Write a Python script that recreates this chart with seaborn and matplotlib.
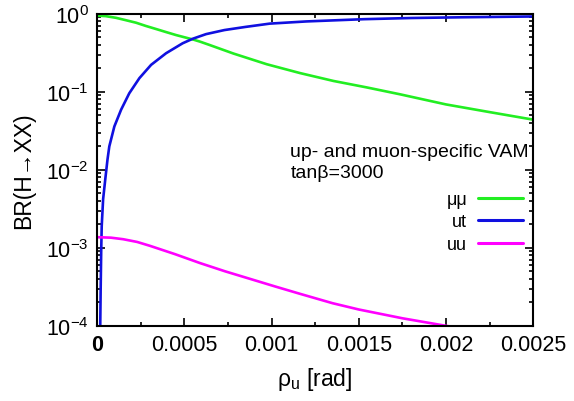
import numpy as np
import pandas as pd
import matplotlib
matplotlib.use("Agg")
import matplotlib.pyplot as plt
import seaborn as sns
from matplotlib.ticker import MultipleLocator, FixedLocator, LogLocator, FixedFormatter

# valori
rho_mm = [0, 0.00005, 0.000109, 0.000165, 0.000224, 0.00028, 0.000338, 0.000395,
          0.000453, 0.000549, 0.000591, 0.000644, 0.000782, 0.000973, 0.001164,
          0.001355, 0.001546, 0.001737, 0.002, 0.00225, 0.0025]
br_mm = [0.95, 0.935, 0.89, 0.83, 0.77, 0.70, 0.64, 0.585,
         0.535, 0.47, 0.44, 0.40, 0.31, 0.226, 0.174,
         0.138, 0.114, 0.093, 0.069, 0.055, 0.044]

rho_ut = [0.000018, 0.000021, 0.000024, 0.000027, 0.000035, 0.000048, 0.00006, 0.0000705,
          0.0000994, 0.000138, 0.000185, 0.000243, 0.00031, 0.000396, 0.000491, 0.000549,
          0.000625, 0.00073, 0.00085, 0.00099, 0.0012, 0.00153, 0.0018, 0.0021, 0.0025]
br_ut = [8e-5, 3e-4, 9e-4, 1.9e-3, 4.2e-3, 7.8e-3, 0.0135, 0.02,
         0.036, 0.059, 0.096, 0.15, 0.222, 0.313, 0.42, 0.48,
         0.55, 0.62, 0.68, 0.75, 0.80, 0.855, 0.885, 0.905, 0.926]

rho_uu = [0, 0.00008, 0.00015, 0.00023, 0.000304, 0.000447, 0.000591, 0.000734,
          0.000877, 0.00102, 0.001164, 0.00135, 0.0015, 0.00175, 0.002, 0.00225, 0.0025]
br_uu = [1.37e-3, 1.35e-3, 1.29e-3, 1.19e-3, 1.06e-3, 8.3e-4, 6.37e-4, 5.0e-4,
         4.0e-4, 3.2e-4, 2.57e-4, 1.95e-4, 1.62e-4, 1.25e-4, 1.0e-4, 8e-5, 6.5e-5]

xticks = [0, 0.0005, 0.001, 0.0015, 0.002, 0.0025]
xticklabels = ["0", "0.0005", "0.001", "0.0015", "0.002", "0.0025"]

sns.set_style("ticks")
plt.rcParams["font.family"] = ["Liberation Sans", "DejaVu Sans"]
plt.rcParams["mathtext.fontset"] = "custom"
plt.rcParams["mathtext.rm"] = "Liberation Sans"
plt.rcParams["mathtext.it"] = "Liberation Sans"
plt.rcParams["text.color"] = "black"
plt.rcParams["axes.labelcolor"] = "black"
plt.rcParams["xtick.color"] = "black"
plt.rcParams["ytick.color"] = "black"
plt.rcParams["axes.edgecolor"] = "black"

fig = plt.figure(figsize=(5.74, 4.02), dpi=100)
ax = fig.add_axes([0.169, 0.187, 0.76, 0.776])

sns.lineplot(x=rho_mm, y=br_mm, ax=ax, color="#22ee22", lw=1.9, label="\u03bc\u03bc", sort=False)
sns.lineplot(x=rho_ut, y=br_ut, ax=ax, color="#1010e0", lw=1.9, label="ut", sort=False)
sns.lineplot(x=rho_uu, y=br_uu, ax=ax, color="#ff00ff", lw=1.9, label="uu", sort=False)

ax.set_yscale("log")
ax.set_xlim(0, 0.0025)
ax.set_ylim(1e-4, 1)

ax.xaxis.set_major_locator(FixedLocator(xticks))
ax.xaxis.set_major_formatter(FixedFormatter(xticklabels))
ax.xaxis.set_minor_locator(MultipleLocator(0.00025))
ax.yaxis.set_minor_locator(LogLocator(base=10, subs=np.arange(2, 10)))
ax.tick_params(direction="in", top=True, right=True, which="both", width=1.2)
ax.tick_params(which="major", length=6, labelsize=15.5, pad=6)
ax.tick_params(which="minor", length=3)
ax.get_xticklabels()[0].set_fontweight("bold")
for s in ax.spines.values():
    s.set_linewidth(1.5)

ax.set_xlabel(r"$\mathregular{\rho_u}$ [rad]", fontsize=16.5, labelpad=7)
ax.set_ylabel("BR(H\u2192XX)", fontsize=16.5, labelpad=8)

ax.text(0.443, 0.56, "up- and muon-specific VAM", transform=ax.transAxes,
        fontsize=14, va="center", ha="left")
ax.text(0.443, 0.49, "tan\u03b2=3000", transform=ax.transAxes,
        fontsize=14, va="center", ha="left")

leg = ax.legend(loc="upper right", bbox_to_anchor=(0.977, 0.432), frameon=False,
                markerfirst=False, fontsize=13, handlelength=2.5,
                labelspacing=0.3, handletextpad=0.6, borderpad=0, borderaxespad=0)
for h in leg.get_lines():
    h.set_linewidth(2.2)

fig.savefig("out.png", dpi=100)
